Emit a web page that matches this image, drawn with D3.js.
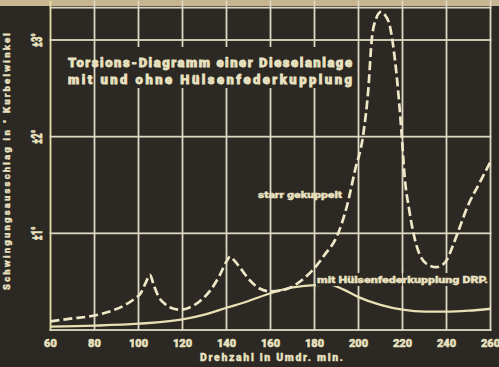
<!DOCTYPE html>
<html>
<head>
<meta charset="utf-8">
<script src="https://cdn.jsdelivr.net/npm/d3@7"></script>
<style>
  html, body { margin: 0; padding: 0; background: #2c2823; }
  svg { display: block; }
  text { font-family: Roboto, "DejaVu Sans", sans-serif; font-weight: 900; fill: #e9e2c0; stroke: #e9e2c0; stroke-width: 0.35; }
</style>
</head>
<body>
<div id="chart"></div>
<script>
// ---------------------------------------------------------------
// Data
const xTicks = [60, 80, 100, 120, 140, 160, 180, 200, 220, 240, 260];
const yTicks = [1, 2, 3];
const yTickLabels = ['±1°', '±2°', '±3°'];

// starr gekuppelt (dashed)
const starrRpm = [60, 70, 80, 88, 94, 98, 101, 103.5, 105.2, 107, 109, 112, 116, 119, 123, 128, 133, 137, 140, 141.7,
    143.5, 146, 150, 155, 160, 165, 170, 175, 180, 185, 190, 194.6, 198.4, 202.2, 204.5, 206, 208, 210.2, 212.3,
    214.3, 216, 217.4, 219.6, 221, 223, 225, 228, 232, 235.5, 238.5, 240, 242.5, 245, 250, 255, 260];
const starrDeg = [0.09, 0.12, 0.15, 0.2, 0.26, 0.32, 0.38, 0.5, 0.57, 0.46, 0.35, 0.27, 0.22, 0.21, 0.23, 0.3, 0.42, 0.57, 0.71, 0.76,
    0.72, 0.65, 0.53, 0.43, 0.4, 0.41, 0.45, 0.53, 0.64, 0.79, 0.96, 1.27, 1.65, 2.03, 2.5, 3.0, 3.22, 3.29, 3.25,
    3.14, 2.9, 2.62, 2.03, 1.58, 1.25, 1.0, 0.77, 0.67, 0.65, 0.68, 0.72, 0.85, 1.0, 1.3, 1.52, 1.74];

// mit Hülsenfederkupplung (solid)
const huelseRpm = [60, 80, 100, 120, 130, 140, 150, 160, 170, 180, 187, 193, 200, 210, 220, 230, 240, 250, 260];
const huelseDeg = [0.035, 0.045, 0.065, 0.11, 0.16, 0.23, 0.3, 0.38, 0.44, 0.465, 0.47, 0.42, 0.34, 0.26, 0.21, 0.19, 0.19, 0.2, 0.22];

const titleLines = ['Torsions-Diagramm einer Dieselanlage', 'mit und ohne Hülsenfederkupplung'];

// ---------------------------------------------------------------
const W = 499, H = 367;
const bg = '#2c2823';
const gridColor = '#dcd8c2';

const svg = d3.select('#chart').append('svg')
    .attr('width', W).attr('height', H);

svg.append('rect').attr('width', W).attr('height', H).attr('fill', bg);
// paper strip at the top
svg.append('rect').attr('width', W).attr('height', 6).attr('fill', '#c6b590');

const x = d3.scaleLinear().domain([60, 260]).range([50.5, 490.5]);
const y = d3.scaleLinear().domain([0, 3]).range([330, 40]);
const yTop = 3.335;
const gw = 1.8; // grid line width

// vertical grid lines (as thin rects)
svg.append('g')
    .selectAll('rect')
    .data(xTicks)
    .join('rect')
    .attr('x', d => x(d) - gw / 2)
    .attr('y', y(yTop) - 7)
    .attr('width', gw)
    .attr('height', y(0) + 1 - (y(yTop) - 7))
    .attr('fill', d => d === 60 ? '#e4e0a2' : gridColor);

// horizontal grid lines (incl. frame)
svg.append('g')
    .selectAll('rect')
    .data([0, ...yTicks, yTop])
    .join('rect')
    .attr('x', x(60) - gw / 2)
    .attr('y', d => y(d) - gw / 2)
    .attr('width', x(260) - x(60) + gw)
    .attr('height', gw)
    .attr('fill', gridColor);

// title panel interrupts the grid
svg.append('rect')
    .attr('x', 108).attr('y', 47).attr('width', 248).attr('height', 41)
    .attr('fill', bg);

// title
svg.append('g').selectAll('text')
    .data(titleLines)
    .join('text')
    .attr('x', 68)
    .attr('y', (d, i) => 67 + i * 16.5)
    .attr('font-size', 13)
    .attr('textLength', 284)
    .attr('lengthAdjust', 'spacing')
    .style('stroke-width', 0.8)
    .text(d => d);

// curves
const lineStarr = d3.line()
    .x((d, i) => x(starrRpm[i]))
    .y(d => y(d))
    .curve(d3.curveMonotoneX);

const lineHuelse = d3.line()
    .x((d, i) => x(huelseRpm[i]))
    .y(d => y(d))
    .curve(d3.curveMonotoneX);

svg.append('path')
    .datum(huelseDeg)
    .attr('fill', 'none')
    .attr('stroke', '#e8e1b6')
    .attr('stroke-width', 2.3)
    .attr('d', lineHuelse);

svg.append('path')
    .datum(starrDeg)
    .attr('fill', 'none')
    .attr('stroke', '#eee8c8')
    .attr('stroke-width', 2.7)
    .attr('stroke-dasharray', '9,4')
    .attr('d', lineStarr);

// curve labels
svg.append('text')
    .attr('x', 258).attr('y', 198)
    .attr('font-size', 9.5)
    .attr('textLength', 84)
    .attr('lengthAdjust', 'spacingAndGlyphs')
    .text('starr gekuppelt');

svg.append('rect')
    .attr('x', 316).attr('y', 273).attr('width', 172).attr('height', 13)
    .attr('fill', bg);
svg.append('rect')
    .attr('x', x(180) - 0.6).attr('y', 273).attr('width', 1.2).attr('height', 17)
    .attr('fill', gridColor);
svg.append('rect')
    .attr('x', x(220) - 0.6).attr('y', 270).attr('width', 1.2).attr('height', 16)
    .attr('fill', gridColor);
svg.append('text')
    .attr('x', 317).attr('y', 283)
    .attr('font-size', 9.5)
    .attr('textLength', 171)
    .attr('lengthAdjust', 'spacingAndGlyphs')
    .text('mit Hülsenfederkupplung DRP.');

// x tick labels
svg.append('g').selectAll('text')
    .data(xTicks)
    .join('text')
    .attr('x', d => x(d))
    .attr('y', 347)
    .attr('text-anchor', 'middle')
    .attr('font-size', 11)
    .style('stroke-width', 0.5)
    .text(d => d);

// y tick labels (rotated)
svg.append('g').selectAll('text')
    .data(yTicks)
    .join('text')
    .attr('transform', d => 'translate(42,' + y(d) + ') rotate(-90)')
    .attr('text-anchor', 'middle')
    .attr('font-size', 15)
    .attr('textLength', 14)
    .attr('lengthAdjust', 'spacingAndGlyphs')
    .style('stroke-width', 0.6)
    .text((d, i) => yTickLabels[i]);

// axis titles
svg.append('text')
    .attr('x', 271.5).attr('y', 361)
    .attr('text-anchor', 'middle')
    .attr('font-size', 10.5)
    .attr('textLength', 143)
    .attr('lengthAdjust', 'spacing')
    .text('Drehzahl in Umdr. min.');

svg.append('text')
    .attr('transform', 'translate(10,161.5) rotate(-90)')
    .attr('text-anchor', 'middle')
    .attr('font-size', 9.5)
    .attr('textLength', 257)
    .attr('lengthAdjust', 'spacing')
    .text('Schwingungsausschlag in ° Kurbelwinkel');
</script>
</body>
</html>
